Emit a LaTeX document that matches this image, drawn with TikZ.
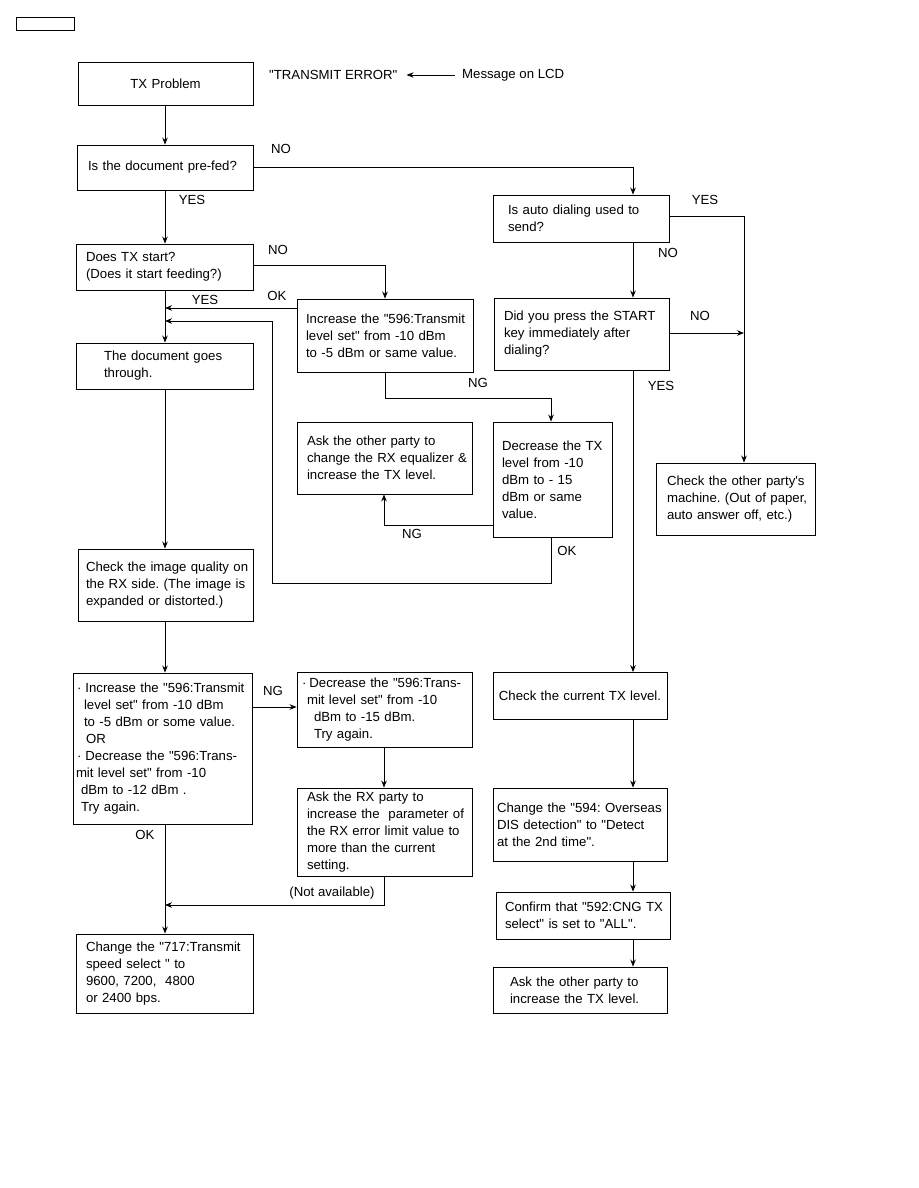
\documentclass[tikz,border=0pt]{standalone}
\usepackage{fontspec}
\setmainfont{Liberation Sans}[Ligatures=TeXOff]
\usetikzlibrary{arrows.meta,calc}
\newcommand\lsk[2]{\leftskip=#1pt\relax #2\par}
\frenchspacing
\begin{document}
\begin{tikzpicture}[x=1pt,y=-1pt,
  every node/.style={font={\fontsize{13.2}{17}\selectfont\frenchspacing}},
  box/.style={draw, line width=0.9pt, inner xsep=0pt, inner ysep=0pt, align=left},
  lbl/.style={inner sep=0pt},
  arr/.style={line width=0.85pt,-{Stealth[length=7pt,width=5.5pt]}}]
\useasboundingbox (0,0) rectangle (918,1188);

\node[draw, line width=0.9pt, minimum width=58pt, minimum height=13pt, inner sep=0pt] (hdr) at (45,23.5) {};

% left column
\node[box, align=center, text width=175pt, minimum height=43pt] (txp) at (165.5,84) {TX Problem};
\node[box, text width=176pt, minimum height=45pt] (prefed) at (165,167.5) {\lsk{11}{Is the document pre-fed?}};
\node[box, text width=177pt, minimum height=46pt] (txstart) at (164.5,267) {\lsk{10}{Does TX start?\\(Does it start feeding?)}};
\node[box, text width=177pt, minimum height=46pt] (docthru) at (164.5,366) {\lsk{28}{The document goes\\through.}};
\node[box, text width=175pt, minimum height=72pt] (imgq) at (165.5,585) {\lsk{8}{Check the image quality on\\the RX side. (The image is\\expanded or distorted.)}};
\node[box, text width=179pt, minimum height=151pt] (big) at (162.5,748.5) {%
\hspace*{4pt}·\hspace*{4pt}Increase the "596:Transmit\\
\hspace*{11pt}level set" from -10 dBm\\
\hspace*{11pt}to -5 dBm or some value.\\
\hspace*{13pt}OR\\
\hspace*{4pt}·\hspace*{4pt}Decrease the "596:Trans-\\
\hspace*{3pt}mit level set" from -10\\
\hspace*{8pt}dBm to -12 dBm .\\
\hspace*{8pt}Try again.};
\node[box, text width=177pt, minimum height=79pt] (chg717) at (164.5,973.5) {\lsk{10}{Change the "717:Transmit\\speed select " to\\9600, 7200,\ \ 4800\\or 2400 bps.}};

% middle column
\node[box, text width=176pt, minimum height=73pt] (inc1) at (385,335.5) {\lsk{9}{Increase the "596:Transmit\\level set" from -10 dBm\\to -5 dBm or same value.}};
\node[box, text width=175pt, minimum height=72pt] (askeq) at (384.5,458) {\lsk{10}{Ask the other party to\\change the RX equalizer \&\\increase the TX level.}};
\node[box, text width=175pt, minimum height=75pt] (dec2) at (384.5,709.5) {%
\hspace*{5pt}·\hspace*{3pt}Decrease the "596:Trans-\\
\hspace*{10pt}mit level set" from -10\\
\hspace*{17pt}dBm to -15 dBm.\\
\hspace*{17pt}Try again.};
\node[box, text width=175pt, minimum height=88pt] (askrx) at (384.5,832) {\lsk{10}{Ask the RX party to\\increase the\ \ parameter of\\the RX error limit value to\\more than the current\\setting.}};

% right-middle column
\node[box, text width=119pt, minimum height=115pt] (dec1) at (552.5,479.5) {\lsk{9}{Decrease the TX\\level from -10\\dBm to - 15\\dBm or same\\value.}};
\node[box, text width=176pt, minimum height=47pt] (auto) at (581,218.5) {\lsk{15}{Is auto dialing used to\\send?}};
\node[box, text width=175pt, minimum height=72pt] (press) at (581.5,334) {\lsk{10}{Did you press the START\\key immediately after\\dialing?}};
\node[box, align=center, text width=174pt, minimum height=47pt] (curtx) at (580,696) {Check the current TX level.};
\node[box, text width=174pt, minimum height=73pt] (chg594) at (580,824.5) {\lsk{4}{Change the "594: Overseas\\DIS detection" to "Detect\\at the 2nd time".}};
\node[box, text width=174pt, minimum height=47pt] (confirm) at (583,915.5) {\lsk{9}{Confirm that "592:CNG TX\\select" is set to "ALL".}};
\node[box, text width=174pt, minimum height=46pt] (askinc) at (580,990) {\lsk{17}{Ask the other party to\\increase the TX level.}};

% far right
\node[box, text width=159pt, minimum height=72pt] (other) at (735.5,499) {\lsk{11}{Check the other party's\\machine. (Out of paper,\\auto answer off, etc.)}};

% message
\node[lbl, anchor=west] (msg1) at (269,75) {"TRANSMIT ERROR"};
\node[lbl, anchor=west] (msg2) at (462,75) {Message on LCD};
\draw[arr, shorten <=7pt, shorten >=9pt] (msg2.west) -- (msg1.east);

% helper coordinates
\coordinate (xl) at (165,0);
\coordinate (xr) at (633,0);
\coordinate (cno1) at (633,167);
\coordinate (cno2) at (385,265);
\coordinate (cok1) at (165,308);
\coordinate (cret) at (165,321);
\coordinate (cok2) at (551,583);
\coordinate (cng1) at (551,398);
\coordinate (cng2) at (384,525);
\coordinate (cng3) at (253,707);
\coordinate (cna) at (165,905);
\coordinate (cyes2) at (744,216);
\coordinate (cno3) at (744,333);

% connectors
\draw[arr] (txp.south -| xl) -- (prefed.north -| xl);
\draw[arr] (prefed.east |- cno1) -- (cno1) -- (auto.north -| xr);
\draw[arr] (prefed.south -| xl) -- (txstart.north -| xl);
\draw[arr] (txstart.east |- cno2) -- (cno2) -- (inc1.north -| cno2);
\draw[arr] (inc1.west |- cok1) -- (cok1);
\draw[arr] (dec1.south -| cok2) -- (cok2) -| (272,321) -- (cret);
\draw[arr] (txstart.south -| xl) -- (docthru.north -| xl);
\draw[arr] (inc1.south -| cno2) |- (cng1) -- (dec1.north -| cng1);
\draw[arr] (dec1.west |- cng2) -- (cng2) -- (askeq.south -| cng2);
\draw[arr] (docthru.south -| xl) -- (imgq.north -| xl);
\draw[arr] (imgq.south -| xl) -- (big.north -| xl);
\draw[arr] (big.east |- cng3) -- (dec2.west |- cng3);
\draw[arr] (dec2.south -| cng2) -- (askrx.north -| cng2);
\draw[arr] (askrx.south -| cng2) |- (cna);
\draw[arr] (big.south -| xl) -- (chg717.north -| xl);
\draw[arr] (auto.east |- cyes2) -- (cyes2) -- (other.north -| cyes2);
\draw[arr] (auto.south -| xr) -- (press.north -| xr);
\draw[arr] (press.east |- cno3) -- (cno3);
\draw[arr] (press.south -| xr) -- (curtx.north -| xr);
\draw[arr] (curtx.south -| xr) -- (chg594.north -| xr);
\draw[arr] (chg594.south -| xr) -- (confirm.north -| xr);
\draw[arr] (confirm.south -| xr) -- (askinc.north -| xr);

% labels
\node[lbl] (l1) at (281,149) {NO};
\node[lbl] (l2) at (192,200) {YES};
\node[lbl] (l3) at (278,250) {NO};
\node[lbl] (l4) at (277,296) {OK};
\node[lbl] (l5) at (205,300) {YES};
\node[lbl] (l6) at (478,383) {NG};
\node[lbl] (l7) at (412,534) {NG};
\node[lbl] (l8) at (567,551) {OK};
\node[lbl] (l9) at (273,691) {NG};
\node[lbl] (l10) at (145,835) {OK};
\node[lbl] (l11) at (332,893) {(Not available)};
\node[lbl] (l12) at (705,200) {YES};
\node[lbl] (l13) at (668,253) {NO};
\node[lbl] (l14) at (700,316) {NO};
\node[lbl] (l15) at (661,386) {YES};
\end{tikzpicture}
\end{document}
